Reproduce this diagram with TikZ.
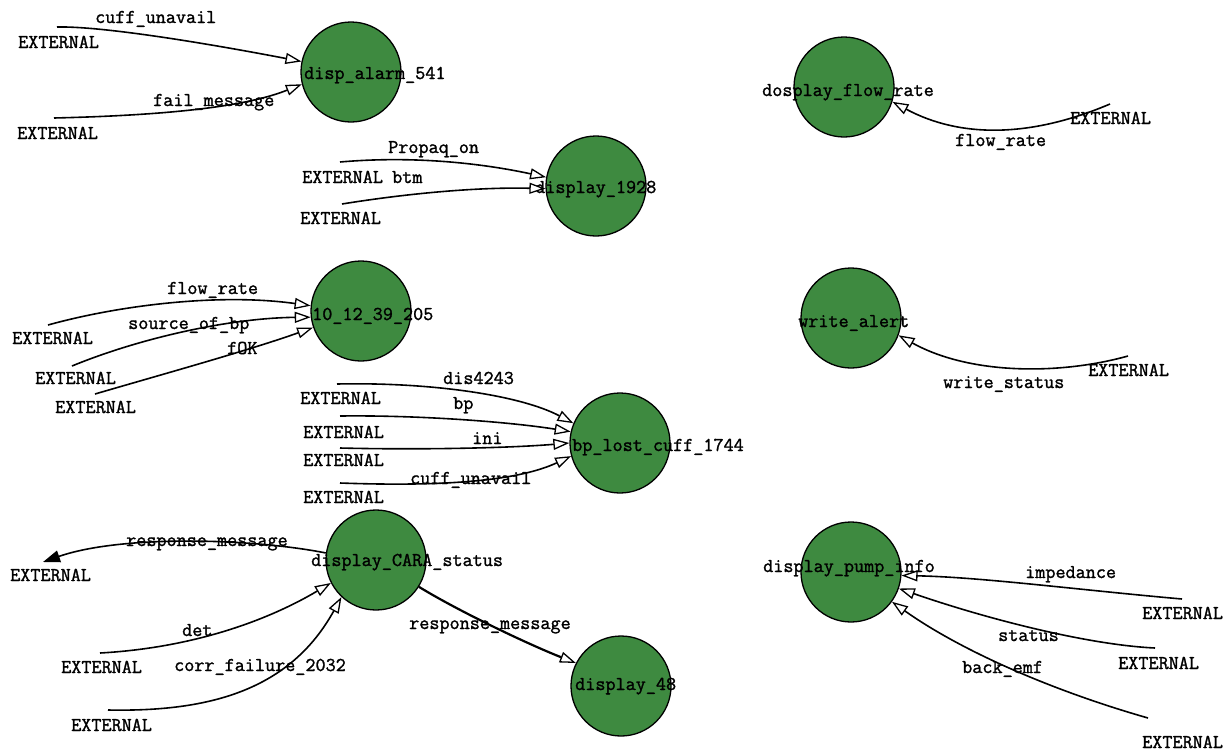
\documentclass[tikz,border=0pt]{standalone}
\usepackage{fontspec}
\usetikzlibrary{arrows.meta}
\newfontfamily\flowfont[FakeBold=1.4]{Latin Modern Mono}
\definecolor{procgreen}{RGB}{62,138,64}
\begin{document}
\begin{tikzpicture}[x=1pt,y=-1pt,
  proc/.style={circle, draw=black, line width=1.3pt, fill=procgreen, minimum size=100pt, inner sep=0pt},
  lbl/.style={anchor=base west, inner sep=0pt, yshift=-6pt, font=\fontsize{19.6}{22}\selectfont\flowfont},
  flow/.style={line width=1.6pt, -{Triangle[open, fill=white, length=16pt, width=11pt, line width=1.3pt]}},
  outflow/.style={line width=1.6pt, -{Triangle[length=17pt, width=12pt]}},
]
\fill[white] (0,0) rectangle (1230,750);
\useasboundingbox (0,0) rectangle (1230,750);

% processes
\node[proc] (alarm)  at (351,72)  {};
\node[proc] (d1928)  at (596,186) {};
\node[proc] (dflow)  at (844,87)  {};
\node[proc] (n10)    at (361,311) {};
\node[proc] (walert) at (851,318) {};
\node[proc] (bplost) at (620,443) {};
\node[proc] (cara)   at (376,560) {};
\node[proc] (d48)    at (621,686) {};
\node[proc] (pump)   at (851,572) {};

% process names
\node[lbl] (talarm)  at (304,73)  {disp\_alarm\_541};
\node[lbl] (td1928)  at (535,187) {display\_1928};
\node[lbl] (tdflow)  at (762,90)  {dosplay\_flow\_rate};
\node[lbl] (tn10)    at (312,314) {10\_12\_39\_205};
\node[lbl] (twalert) at (798,321) {write\_alert};
\node[lbl] (tbplost) at (572,445) {bp\_lost\_cuff\_1744};
\node[lbl] (tcara)   at (311,560) {display\_CARA\_status};
\node[lbl] (td48)    at (575,684) {display\_48};
\node[lbl] (tpump)   at (763,566) {display\_pump\_info};

% external terminators
\node[lbl] (x1)  at (18,42)    {EXTERNAL};
\node[lbl] (x2)  at (17,133)   {EXTERNAL};
\node[lbl] (x3)  at (302,177)  {EXTERNAL};
\node[lbl] (x4)  at (300,218)  {EXTERNAL};
\node[lbl] (x5)  at (1070,118) {EXTERNAL};
\node[lbl] (x6)  at (12,338)   {EXTERNAL};
\node[lbl] (x7)  at (35,378)   {EXTERNAL};
\node[lbl] (x8)  at (55,407)   {EXTERNAL};
\node[lbl] (x9)  at (1088,370) {EXTERNAL};
\node[lbl] (x10) at (300,398)  {EXTERNAL};
\node[lbl] (x11) at (303,432)  {EXTERNAL};
\node[lbl] (x12) at (303,460)  {EXTERNAL};
\node[lbl] (x13) at (303,497)  {EXTERNAL};
\node[lbl] (x14) at (10,575)   {EXTERNAL};
\node[lbl] (x15) at (61,667)   {EXTERNAL};
\node[lbl] (x16) at (71,725)   {EXTERNAL};
\node[lbl] (x17) at (1142,613) {EXTERNAL};
\node[lbl] (x18) at (1118,663) {EXTERNAL};
\node[lbl] (x19) at (1142,742) {EXTERNAL};

% flow names
\node[lbl] (f1)  at (95,17)    {cuff\_unavail};
\node[lbl] (f2)  at (153,100)  {fail\_message};
\node[lbl] (f3)  at (388,147)  {Propaq\_on};
\node[lbl] (f4)  at (392,177)  {btm};
\node[lbl] (f5)  at (955,140)  {flow\_rate};
\node[lbl] (f6)  at (167,288)  {flow\_rate};
\node[lbl] (f7)  at (128,323)  {source\_of\_bp};
\node[lbl] (f8)  at (227,348)  {fOK};
\node[lbl] (f9)  at (943,382)  {write\_status};
\node[lbl] (f10) at (443,378)  {dis4243};
\node[lbl] (f11) at (453,403)  {bp};
\node[lbl] (f12) at (472,438)  {ini};
\node[lbl] (f13) at (410,478)  {cuff\_unavail};
\node[lbl] (f14) at (126,540)  {response\_message};
\node[lbl] (f15) at (182,630)  {det};
\node[lbl] (f16) at (174,665)  {corr\_failure\_2032};
\node[lbl] (f17) at (409,623)  {response\_message};
\node[lbl] (f18) at (1025,572) {impedance};
\node[lbl] (f19) at (998,635)  {status};
\node[lbl] (f20) at (962,667)  {back\_emf};

% free ends of the flows
\coordinate (e1)  at (57,27);
\coordinate (e2)  at (54,118);
\coordinate (e3)  at (340,162);
\coordinate (e4)  at (342,204);
\coordinate (e5)  at (1110,104);
\coordinate (e6)  at (48,325);
\coordinate (e7)  at (72,366);
\coordinate (e8)  at (95,394);
\coordinate (e9)  at (1128,356);
\coordinate (e10) at (337,384);
\coordinate (e11) at (340,416);
\coordinate (e12) at (340,448);
\coordinate (e13) at (340,483);
\coordinate (e14) at (43,562);
\coordinate (e15) at (100,653);
\coordinate (e16) at (108,710);
\coordinate (e18) at (1182,599);
\coordinate (e19) at (1155,648);
\coordinate (e20) at (1148,718);

% flows
\draw[flow] (e1) .. controls (100,26) and (200,42) .. (alarm.168);
\draw[flow] (e2) .. controls (180,115) and (250,105) .. (alarm.194);
\draw[flow] (e3) .. controls (420,155) and (490,165) .. (d1928.170);
\draw[flow] (e4) .. controls (410,193) and (480,187) .. (d1928.183);
\draw[flow] (e5) .. controls (1030,138) and (960,138) .. (dflow.343);
\draw[flow] (e6) .. controls (120,305) and (220,293) .. (n10.174);
\draw[flow] (e7) .. controls (140,338) and (230,318) .. (n10.187);
\draw[flow] (e8) .. controls (160,375) and (250,350) .. (n10.199);
\draw[flow] (e9) .. controls (1060,375) and (970,375) .. (walert.340);
\draw[flow] (e10) .. controls (430,382) and (520,395) .. (bplost.157);
\draw[flow] (e11) .. controls (420,415) and (510,422) .. (bplost.167);
\draw[flow] (e12) .. controls (420,450) and (510,448) .. (bplost.180);
\draw[flow] (e13) .. controls (450,487) and (520,480) .. (bplost.195);
\draw[outflow] (cara.172) .. controls (250,538) and (120,535) .. (e14);
\draw[flow] (e15) .. controls (190,648) and (265,622) .. (cara.207);
\draw[flow] (e16) .. controls (210,712) and (290,690) .. (cara.227);
\draw[flow, line width=2.2pt] (cara.328) .. controls (460,612) and (530,645) .. (d48.153);
\draw[flow] (e18) .. controls (1080,590) and (980,577) .. (pump.356);
\draw[flow] (e19) .. controls (1090,645) and (990,620) .. (pump.341);
\draw[flow] (e20) .. controls (1050,690) and (960,650) .. (pump.324);
\end{tikzpicture}
\end{document}
